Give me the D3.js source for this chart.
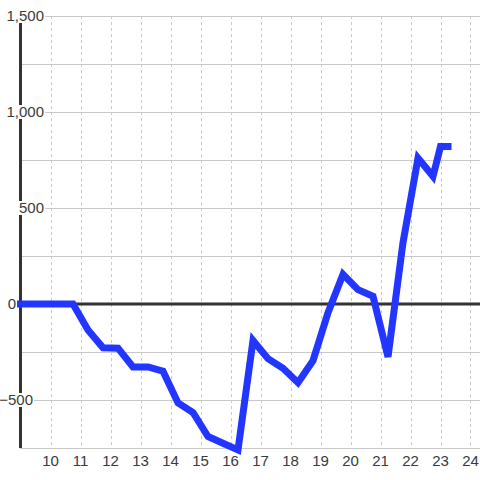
<!DOCTYPE html>
<html>
<head>
<meta charset="utf-8">
<script src="https://cdn.jsdelivr.net/npm/d3@7"></script>
<style>
  html, body { margin: 0; padding: 0; background: #ffffff; }
  svg { display: block; font-family: "Liberation Sans", Arial, sans-serif; }
</style>
</head>
<body>
<svg id="chart" width="480" height="480"></svg>
<script>
// ---- data ----
const hours = [9, 10.75, 11.25, 11.75, 12.25, 12.75, 13.25, 13.75, 14.25, 14.75, 15.25, 15.75, 16.25,
               16.75, 17.25, 17.75, 18.25, 18.75, 19.25, 19.75, 20.25, 20.75, 21.25, 21.75, 22.25,
               22.75, 23.0, 23.25];
const values = [0, 0, -135, -228, -230, -328, -328, -350, -515, -565, -690, -725, -760,
                -190, -285, -335, -410, -295, -45, 155, 75, 40, -275, 320, 760,
                665, 820, 820];
const xTicks = [10, 11, 12, 13, 14, 15, 16, 17, 18, 19, 20, 21, 22, 23, 24];
const yLabelTicks = [-500, 0, 500, 1000, 1500];
const yGridTicks = [-750, -500, -250, 0, 250, 500, 750, 1000, 1250, 1500];

const W = 480, H = 480;
const svg = d3.select("#chart");
svg.append("rect").attr("width", W).attr("height", H).attr("fill", "#ffffff");

const x = d3.scaleLinear().domain([9, 24.3]).range([20.5, 479.5]);
const y = d3.scaleLinear().domain([-750, 1500]).range([448, 16]);

// horizontal grid
svg.append("g").selectAll("line").data(yGridTicks).join("line")
  .attr("x1", 20).attr("x2", W)
  .attr("y1", d => Math.round(y(d)) + 0.5).attr("y2", d => Math.round(y(d)) + 0.5)
  .attr("stroke", "#c8c8c8").attr("stroke-width", 1);

// vertical dashed grid
svg.append("g").selectAll("line").data(xTicks).join("line")
  .attr("x1", d => Math.round(x(d)) + 0.5).attr("x2", d => Math.round(x(d)) + 0.5)
  .attr("y1", y(1500)).attr("y2", y(-750))
  .attr("stroke", "#c8c8c8").attr("stroke-width", 1)
  .attr("stroke-dasharray", "3,3");

// zero line
svg.append("line")
  .attr("x1", 20).attr("x2", W)
  .attr("y1", y(0)).attr("y2", y(0))
  .attr("stroke", "#333333").attr("stroke-width", 3);

// y axis line
svg.append("line")
  .attr("x1", 20.5).attr("x2", 20.5)
  .attr("y1", y(1500)).attr("y2", y(-750))
  .attr("stroke", "#333333").attr("stroke-width", 3);

// y labels with background
const yl = svg.append("g");
yLabelTicks.forEach(v => {
  const g = yl.append("g");
  const ax = v > 0 ? 44 : (v === 0 ? 16 : 33);
  const t = g.append("text")
    .attr("x", ax).attr("y", y(v))
    .attr("dy", "0.36em")
    .attr("text-anchor", "end")
    .attr("font-size", 15)
    .attr("fill", "#3a3a3a")
    .text(d3.format(",")(v));
  const bb = t.node().getBBox();
  if (v !== 0) {
    g.insert("rect", "text")
      .attr("x", bb.x - 1).attr("y", y(v) - 7)
      .attr("width", bb.width + 2).attr("height", 14)
      .attr("fill", "#ffffff");
  }
});

// x labels
svg.append("g").selectAll("text").data(xTicks).join("text")
  .attr("x", d => x(d)).attr("y", 466)
  .attr("text-anchor", "middle")
  .attr("font-size", 15)
  .attr("fill", "#3a3a3a")
  .text(d => d);

// data line
const pts = hours.map((h, i) => [h, values[i]]);
svg.append("path")
  .datum(pts)
  .attr("d", d3.line().x(d => x(d[0])).y(d => y(d[1])))
  .attr("fill", "none")
  .attr("stroke", "#2236ff")
  .attr("stroke-width", 7)
  .attr("stroke-linejoin", "miter")
  .attr("stroke-linecap", "square");
</script>
</body>
</html>
